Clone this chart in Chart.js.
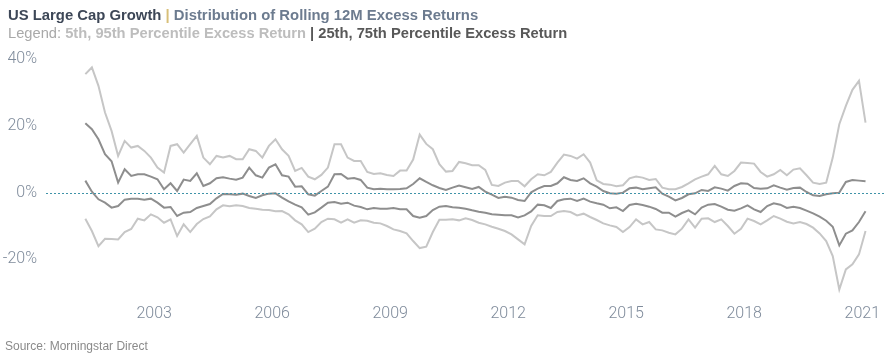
<!DOCTYPE html>
<html>
<head>
<meta charset="utf-8">
<script src="https://cdn.jsdelivr.net/npm/chart.js@4"></script>
<style>
  html, body { margin: 0; padding: 0; background: #fff; }
  #wrap { position: relative; width: 887px; height: 355px; overflow: hidden; }
  #c { position: absolute; left: 0; top: 0; }
  .t { position: absolute; left: 8px; white-space: nowrap; font-family: "Liberation Sans", Arial, sans-serif; line-height: 18px; }
  #t1 { top: 6px; font-weight: bold; font-size: 14.85px; }
  #t2 { top: 24px; font-size: 14.7px; }
  #src { position: absolute; left: 5px; top: 339px; font-family: "Liberation Sans", Arial, sans-serif; font-size: 12px; line-height: 15px; color: #8a8a8a; white-space: nowrap; }
</style>
</head>
<body>
<div id="wrap">
  <canvas id="c" width="887" height="355"></canvas>
  <div class="t" id="t1"><span style="color:#3d4757">US Large Cap Growth</span> <span style="color:#d8bf78">|</span> <span style="color:#6c7b8f">Distribution of Rolling 12M Excess Returns</span></div>
  <div class="t" id="t2"><span style="color:#a9a9a9">Legend: </span><span style="color:#bdbdbd;font-weight:bold">5th, 95th Percentile Excess Return</span> <span style="color:#585858;font-weight:bold">| 25th, 75th Percentile Excess Return</span></div>
  <div id="src">Source: Morningstar Direct</div>
</div>
<script>
// Time index: bi-monthly observations starting April 2001
const startYear = 2001.25;
const stepYears = 2 / 12;

const p95 = [35.5,37.5,32,24,18.5,11,15.5,13.5,14,12.5,
  10.5,7.5,6,14,14.5,12,14.5,17,10.5,8.5,
  11,10.5,11,10,10,13,12.5,10.5,14,16,
  13,11,6.5,
  7.4,4.8,4.0,5.3,7.5,14.5,14.5,10.5,9.5,9.5,
  6.2,5.6,5.8,5.3,5.0,6.6,6.6,9.9,17.4,14.6,
  13,8.5,6.3,6.5,9.2,8.8,8.2,
  8.2,6.8,2.3,2.0,3.0,3.5,3.5,1.9,4,5.5,
  5.2,6.2,9,11.4,11,10.2,11.5,9,
  3.7,2.6,2.4,1.9,2.2,4.3,4.8,4.5,3.8,4.1,1.5,
  1.0,1.0,1.7,2.8,4.0,4.8,5.5,8.0,5.5,5.0,
  6.5,9.0,8.9,8.7,6.2,4.8,5.5,6.8,5.2,6.9,
  7.3,5.2,3.0,2.6,3.0,10.5,20.5,26,30.8,33.5,
  21];

const p75 = [20.8,19,16,11.5,9.4,3,7,5,5.5,5.5,
  4.8,4,1,2.8,0.5,3.9,3.5,5.8,2,2.8,
  4.3,4.6,4.2,3.9,4.5,7.5,5.2,4.5,7.5,8.5,
  5.2,4.8,1.8,
  1.9,-0.5,-0.9,0.5,1.8,5.5,5.6,4.2,4.4,3.8,
  1.5,1.0,1.2,1.0,1.0,1.1,1.3,2.6,4.3,3.2,
  2.2,1.4,0.8,1.5,2.1,1.6,1.1,
  1.7,0.3,-0.6,-1.6,-1.2,-1.5,-2.2,-2.5,0.1,1.2,
  2.0,2.0,2.8,4.6,3.8,3.5,4.3,2.8,1.8,0.5,
  -0.2,-0.3,0.0,1.3,1.5,1.0,1.3,1.6,-0.3,
  -1.2,-2.3,-1.6,-0.5,-0.2,0.8,0.5,1.6,1.2,0.6,
  2.0,2.8,2.7,1.4,1.2,1.3,2.2,1.5,0.9,1.4,
  1.5,0.2,-0.8,-1.0,-0.5,-0.2,0.0,3.2,3.8,3.6,
  3.4];

const p25 = [3.6,0.3,-2.0,-3.0,-4.5,-4.0,-2.1,-1.8,-1.8,-2.1,
  -1.8,-3.0,-4.5,-4.3,-7.0,-6.0,-5.8,-4.6,-4.0,-3.4,
  -1.7,-0.4,-0.5,-0.6,-0.3,-1.0,-1.6,-0.8,-0.3,-0.2,
  -1.5,-2.6,-3.6,
  -4.4,-6.6,-5.9,-4.5,-3.0,-2.8,-3.3,-3.0,-3.9,-4.3,
  -5.0,-4.6,-4.8,-4.8,-4.6,-5.0,-5.0,-7.0,-7.5,-7.0,
  -5.2,-4.2,-4.0,-4.4,-4.5,-4.8,-5.3,
  -5.7,-6.0,-6.5,-6.6,-6.8,-6.8,-7.4,-6.8,-5.6,-3.6,
  -3.8,-4.6,-2.5,-2.0,-1.8,-2.5,-1.8,-2.7,-3.2,-3.6,
  -4.7,-4.4,-5.5,-3.7,-3.3,-3.7,-4.2,-4.9,-6.0,
  -6.0,-7.2,-6.1,-5.3,-6.5,-4.5,-3.6,-3.4,-4.2,-5.1,
  -5.4,-4.7,-3.8,-5.0,-5.8,-4.0,-3.2,-3.6,-4.6,-4.2,
  -4.6,-5.4,-6.2,-7.2,-8.4,-10.2,-15.8,-12.3,-11.3,-8.8,
  -5.6];

const p5 = [-7.8,-11.5,-16,-13.8,-13.9,-14,-11.8,-10.9,-7.8,-8.3,
  -6.5,-7.4,-9,-8,-13,-9.5,-11.8,-9.4,-7.9,-7.1,
  -5,-3.8,-4.1,-3.8,-4.0,-4.6,-4.8,-5.1,-5.2,-5.6,
  -5.5,-6.5,-8.3,
  -9.5,-11.8,-10.8,-8.8,-7.8,-8.0,-9.0,-8.0,-9.0,-8.3,
  -8.4,-9.0,-9.2,-10.0,-11.0,-11.5,-12.2,-14.5,-16.6,-16.2,
  -11.8,-8.1,-8.1,-8.0,-8.3,-7.7,-8.2,
  -9.0,-9.5,-10.2,-10.8,-11.5,-12.5,-14.0,-15.5,-10.0,-6.8,
  -7.0,-7.0,-5.8,-5.5,-5.8,-6.8,-6.3,-7.3,-8.2,-9.2,
  -9.8,-10.3,-11.8,-10.3,-8.0,-9.5,-8.8,-11.0,-11.3,
  -12.0,-12.5,-10.8,-8.0,-10.5,-7.8,-7.7,-8.8,-8.0,-10.0,
  -12.3,-10.8,-7.8,-8.5,-9.5,-8.3,-7.0,-7.8,-8.7,-9.2,
  -8.8,-9.4,-10.5,-12.2,-14.5,-19,-29,-23,-21.5,-18.5,
  -11.5];

const xTickYears = [2003, 2006, 2009, 2012, 2015, 2018, 2021];
const yTickValues = [-20, 0, 20, 40];

const toPoints = arr => arr.map((v, i) => ({ x: startYear + i * stepYears, y: v }));

const zeroLine = {
  id: 'zeroLine',
  afterDatasetsDraw(chart) {
    const { ctx, chartArea, scales } = chart;
    const y = Math.round(scales.y.getPixelForValue(0)) + 0.5;
    ctx.save();
    ctx.strokeStyle = '#3f93a8';
    ctx.lineWidth = 1;
    ctx.setLineDash([2, 2]);
    ctx.beginPath();
    ctx.moveTo(chartArea.left, y);
    ctx.lineTo(chartArea.right, y);
    ctx.stroke();
    ctx.restore();
  }
};

const light = '#c6c6c6';
const dark = '#8e8e8e';
const ds = (label, arr, color) => ({
  label, data: toPoints(arr), borderColor: color, borderWidth: 2,
  pointRadius: 0, tension: 0, fill: false
});

new Chart(document.getElementById('c'), {
  type: 'line',
  data: {
    datasets: [
      ds('95th Percentile', p95, light),
      ds('5th Percentile', p5, light),
      ds('75th Percentile', p75, dark),
      ds('25th Percentile', p25, dark)
    ]
  },
  options: {
    responsive: false,
    animation: false,
    events: [],
    layout: { padding: { top: 50, bottom: 24, left: 0, right: 0 } },
    plugins: { legend: { display: false }, tooltip: { enabled: false }, title: { display: false } },
    scales: {
      x: {
        type: 'linear',
        min: 2000.25,
        max: 2021.6,
        grid: { display: false, drawTicks: false },
        border: { display: false },
        afterBuildTicks: s => { s.ticks = xTickYears.map(v => ({ value: v })); },
        ticks: {
          padding: 7,
          color: '#7f8b9b',
          font: { family: 'Roboto', size: 16, weight: '300' },
          maxRotation: 0,
          autoSkip: false,
          callback: v => String(v)
        }
      },
      y: {
        min: -31.5,
        max: 42.73,
        grid: { display: false, drawTicks: false },
        border: { display: false },
        afterFit: s => { s.width = 46; },
        afterBuildTicks: s => { s.ticks = yTickValues.map(v => ({ value: v })); },
        ticks: {
          padding: 9,
          color: '#7f8b9b',
          font: { family: 'Roboto', size: 16, weight: '300' },
          callback: v => v + '%'
        }
      }
    }
  },
  plugins: [zeroLine]
});
</script>
</body>
</html>
